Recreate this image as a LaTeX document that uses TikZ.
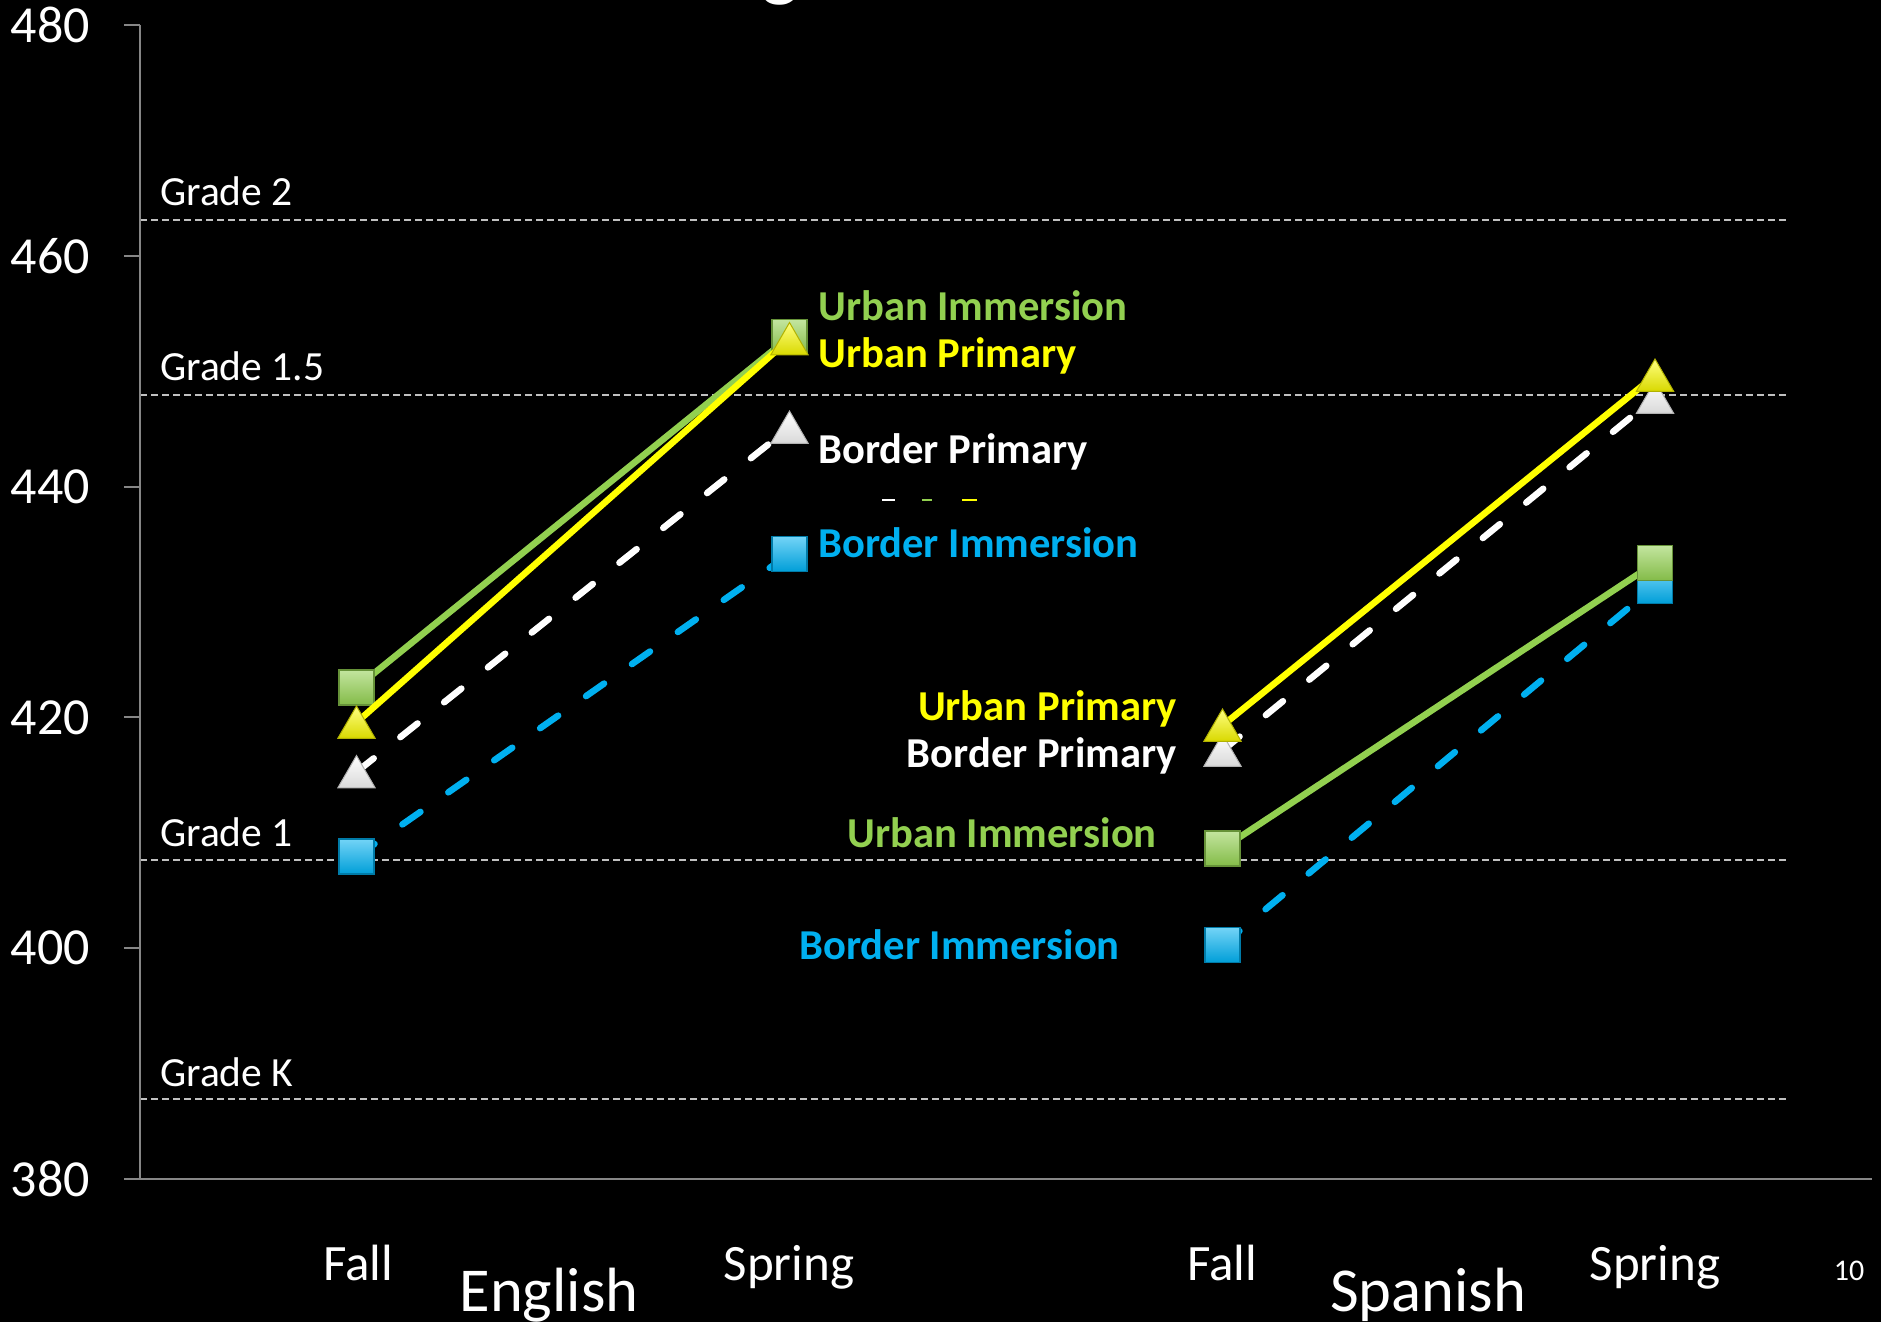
\documentclass[tikz,border=0pt]{standalone}
\usepackage{fontspec}
\setmainfont{Carlito}
\usetikzlibrary{shapes.geometric}
\definecolor{uigreen}{HTML}{92D050}
\definecolor{upyellow}{HTML}{FFFF00}
\definecolor{biblue}{HTML}{00B0F0}
\definecolor{gridgray}{HTML}{C0C0C0}
\definecolor{axisgray}{HTML}{868686}
\begin{document}
\begin{tikzpicture}[x=1pt,y=-1pt,
  ynum/.style={font=\fontsize{52}{60}\selectfont, text=white, anchor=east, inner sep=0pt},
  gradelbl/.style={font=\fontsize{41.5}{48}\selectfont, text=white, anchor=base west, inner sep=0pt},
  serlbl/.style={font=\fontsize{42.6}{50}\selectfont\bfseries, inner sep=0pt},
  xlbl/.style={font=\fontsize{51}{60}\selectfont, text=white, anchor=base, inner sep=0pt},
  grplbl/.style={font=\fontsize{62.5}{72}\selectfont, text=white, anchor=base, inner sep=0pt},
  gridline/.style={draw=gridgray, line width=2pt, dash pattern=on 7pt off 4pt},
  axisline/.style={draw=axisgray, line width=2pt},
  solidser/.style={line width=6.5pt, line cap=round},
  dashser/.style={line width=6.5pt, line cap=round, dash pattern=on 22pt off 34pt},
  sqmark/.style={rectangle, minimum size=35pt, inner sep=0pt, line width=1.2pt,
     draw=#1!70!black, top color=#1!55!white, bottom color=#1!90!black},
  trimark/.style={regular polygon, regular polygon sides=3, minimum size=43pt, inner sep=0pt,
     line width=1pt, draw=#1!70!black, top color=#1!50!white, bottom color=#1!85!black, yshift=-5pt}
]
\fill[black] (0,0) rectangle (1881,1322);
\useasboundingbox (0,0) rectangle (1881,1322);

% title remnant
\node[text=white, font=\fontsize{80}{96}\selectfont, anchor=base, inner sep=0pt] (ttl) at (780,-8) {g};

% grade lines
\draw[gridline] (140,219.5) -- (1789,219.5);
\draw[gridline] (140,394.7) -- (1789,394.7);
\draw[gridline] (140,860) -- (1789,860);
\draw[gridline] (140,1099) -- (1789,1099);
\node[gradelbl] (g2) at (160,205) {Grade 2};
\node[gradelbl] (g15) at (160,380) {Grade 1.5};
\node[gradelbl] (g1) at (160,846) {Grade 1};
\node[gradelbl] (gk) at (160,1086) {Grade K};

% axes
\draw[axisline] (140,25) -- (140,1179);
\draw[axisline] (124,1179) -- (1872,1179);
\foreach \yy in {25,255.8,486.6,717.4,948.2} \draw[axisline] (124,\yy) -- (140,\yy);
\node[ynum] (y480) at (90,25) {480};
\node[ynum] (y460) at (90,255.8) {460};
\node[ynum] (y440) at (90,486.6) {440};
\node[ynum] (y420) at (90,717.4) {420};
\node[ynum] (y400) at (90,948.2) {400};
\node[ynum] (y380) at (90,1179) {380};

% x labels
\node[xlbl] (xef) at (358,1280) {Fall};
\node[xlbl] (xes) at (789,1280) {Spring};
\node[xlbl] (xsf) at (1222,1280) {Fall};
\node[xlbl] (xss) at (1655,1280) {Spring};
\node[grplbl] (geng) at (549,1311.7) {English};
\node[grplbl] (gspa) at (1428,1311.7) {Spanish};
\node[text=white, font=\fontsize{30}{36}\selectfont, anchor=base, inner sep=0pt] (pgnum) at (1849,1280) {10};

% legend remnants
\draw[white, line width=2pt] (882,500) -- (895,500);
\draw[uigreen, line width=2pt] (922,500) -- (932,500);
\draw[upyellow, line width=2pt] (962,500) -- (977,500);

% data points
\coordinate (ef-ui) at (356.5,687.5);
\coordinate (ef-up) at (356.5,722.5);
\coordinate (ef-bp) at (356.5,772);
\coordinate (ef-bi) at (356.5,856.5);
\coordinate (es-ui) at (789.5,337);
\coordinate (es-up) at (789.5,339);
\coordinate (es-bp) at (789.5,427.5);
\coordinate (es-bi) at (789.5,554);
\coordinate (sf-up) at (1222.5,725.5);
\coordinate (sf-bp) at (1222.5,750.5);
\coordinate (sf-ui) at (1222.5,848.5);
\coordinate (sf-bi) at (1222.5,945);
\coordinate (ss-up) at (1655,375.5);
\coordinate (ss-bp) at (1655,397.5);
\coordinate (ss-ui) at (1655,563);
\coordinate (ss-bi) at (1655,586);

% Border Immersion
\draw[dashser, biblue] (ef-bi) -- (es-bi);
\draw[dashser, biblue] (sf-bi) -- (ss-bi);
\node[sqmark=biblue] (m-ef-bi) at (ef-bi) {};
\node[sqmark=biblue] (m-es-bi) at (es-bi) {};
\node[sqmark=biblue] (m-sf-bi) at (sf-bi) {};
\node[sqmark=biblue] (m-ss-bi) at (ss-bi) {};
% Border Primary
\draw[dashser, white] (ef-bp) -- (es-bp);
\draw[dashser, white] (sf-bp) -- (ss-bp);
\node[trimark=white] (m-ef-bp) at (ef-bp) {};
\node[trimark=white] (m-es-bp) at (es-bp) {};
\node[trimark=white] (m-sf-bp) at (sf-bp) {};
\node[trimark=white] (m-ss-bp) at (ss-bp) {};
% Urban Immersion
\draw[solidser, uigreen] (ef-ui) -- (es-ui);
\draw[solidser, uigreen] (sf-ui) -- (ss-ui);
\node[sqmark=uigreen] (m-ef-ui) at (ef-ui) {};
\node[sqmark=uigreen] (m-es-ui) at (es-ui) {};
\node[sqmark=uigreen] (m-sf-ui) at (sf-ui) {};
\node[sqmark=uigreen] (m-ss-ui) at (ss-ui) {};
% Urban Primary
\draw[solidser, upyellow] (ef-up) -- (es-up);
\draw[solidser, upyellow] (sf-up) -- (ss-up);
\node[trimark=upyellow] (m-ef-up) at (ef-up) {};
\node[trimark=upyellow] (m-es-up) at (es-up) {};
\node[trimark=upyellow] (m-sf-up) at (sf-up) {};
\node[trimark=upyellow] (m-ss-up) at (ss-up) {};

% series labels, English spring
\node[serlbl, text=uigreen, anchor=base west] (l-es-ui) at (818,320) {Urban Immersion};
\node[serlbl, text=upyellow, anchor=base west] (l-es-up) at (818,367.5) {Urban Primary};
\node[serlbl, text=white, anchor=base west] (l-es-bp) at (818,463) {Border Primary};
\node[serlbl, text=biblue, anchor=base west] (l-es-bi) at (818,557.5) {Border Immersion};
% series labels, Spanish fall
\node[serlbl, text=upyellow, anchor=base east] (l-sf-up) at (1177,720) {Urban Primary};
\node[serlbl, text=white, anchor=base east] (l-sf-bp) at (1177,767.5) {Border Primary};
\node[serlbl, text=uigreen, anchor=base east] (l-sf-ui) at (1157,847.5) {Urban Immersion};
\node[serlbl, text=biblue, anchor=base east] (l-sf-bi) at (1120,959) {Border Immersion};
\end{tikzpicture}
\end{document}
